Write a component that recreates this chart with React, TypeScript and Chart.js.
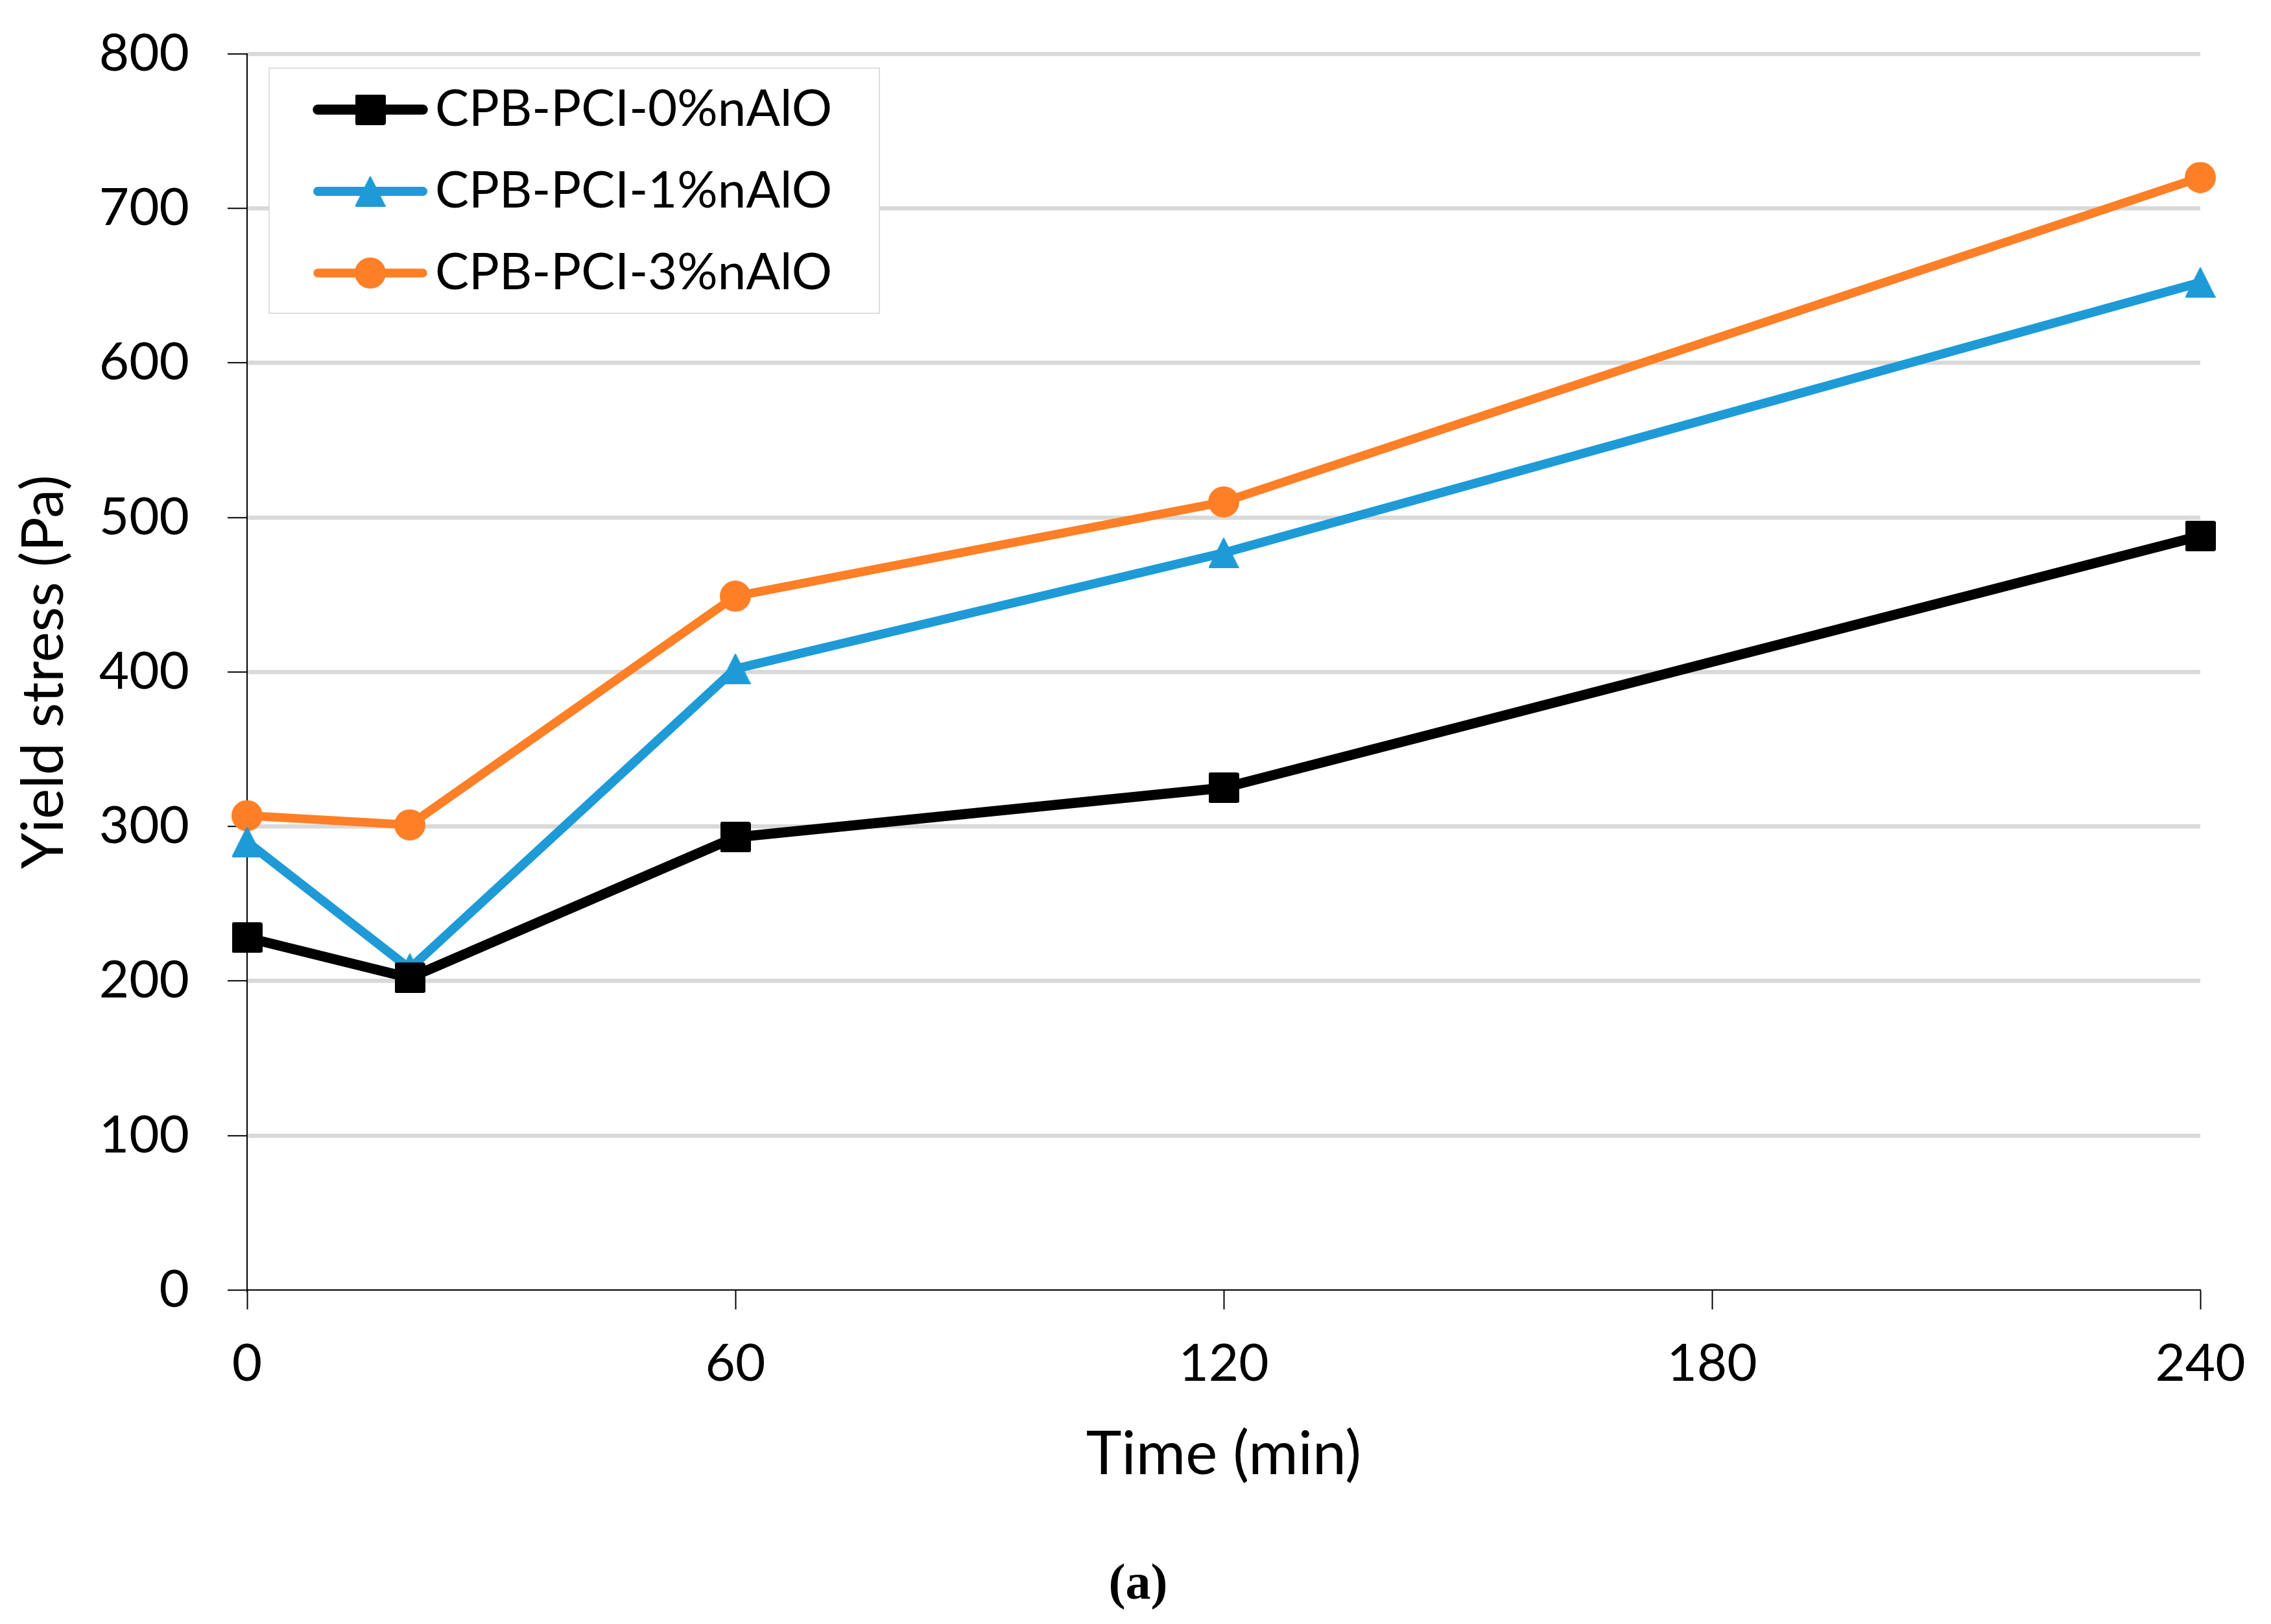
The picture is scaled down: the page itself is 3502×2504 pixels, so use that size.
import React, { useEffect, useRef } from 'react';
import { Chart, registerables } from 'chart.js';

Chart.register(...registerables);

// ---- data ----
const times = [0, 20, 60, 120, 240];
const yield0 = [228, 202, 293, 325, 488];
const yield1 = [290, 208, 402, 477, 652];
const yield3 = [307, 301, 449, 510, 720];
const seriesLabels = ['CPB-PCI-0%nAlO', 'CPB-PCI-1%nAlO', 'CPB-PCI-3%nAlO'];
const xTickValues = [0, 60, 120, 180, 240];
const yTickValues = [0, 100, 200, 300, 400, 500, 600, 700, 800];
const xTitle = 'Time (min)';
const yTitle = 'Yield stress (Pa)';
const caption = '(a)';

const W = 3502;
const H = 2504;
const FONT = 'Lato, "Open Sans", sans-serif';
const SERIF = '"Liberation Serif", "DejaVu Serif", serif';
const BLACK = '#000000';
const BLUE = '#1E9BD7';
const ORANGE = '#FF7F27';

function makeMarker(shape: 'square' | 'triangle' | 'circle', color: string): HTMLCanvasElement {
  const c = document.createElement('canvas');
  const s = shape === 'circle' ? 48 : 47;
  c.width = s;
  c.height = s;
  const g = c.getContext('2d')!;
  g.fillStyle = color;
  g.beginPath();
  if (shape === 'square') {
    const r = 3;
    g.moveTo(r, 0);
    g.lineTo(s - r, 0);
    g.quadraticCurveTo(s, 0, s, r);
    g.lineTo(s, s - r);
    g.quadraticCurveTo(s, s, s - r, s);
    g.lineTo(r, s);
    g.quadraticCurveTo(0, s, 0, s - r);
    g.lineTo(0, r);
    g.quadraticCurveTo(0, 0, r, 0);
  } else if (shape === 'circle') {
    g.arc(s / 2, s / 2, s / 2, 0, Math.PI * 2);
  } else {
    g.moveTo(s / 2, 1);
    g.lineTo(s - 1, s - 1);
    g.lineTo(1, s - 1);
    g.closePath();
    g.lineJoin = 'round';
    g.lineWidth = 2;
    g.strokeStyle = color;
    g.stroke();
  }
  g.fill();
  return c;
}

const boxLegend = {
  id: 'boxLegend',
  afterDraw(chart: any) {
    const ctx = chart.ctx as CanvasRenderingContext2D;
    ctx.save();
    ctx.fillStyle = '#ffffff';
    ctx.fillRect(415, 105, 941, 378);
    ctx.strokeStyle = '#dedede';
    ctx.lineWidth = 2;
    ctx.strokeRect(415, 105, 941, 378);
    chart.data.datasets.forEach((ds: any, i: number) => {
      const y = 169 + i * 126;
      ctx.strokeStyle = ds.borderColor;
      ctx.lineWidth = ds.borderWidth;
      ctx.lineCap = 'round';
      ctx.beginPath();
      ctx.moveTo(490, y);
      ctx.lineTo(652, y);
      ctx.stroke();
      const img = ds.pointStyle as HTMLCanvasElement;
      ctx.drawImage(img, 571 - img.width / 2, y - img.height / 2);
      ctx.fillStyle = '#000000';
      ctx.font = `78px ${FONT}`;
      ctx.textBaseline = 'middle';
      ctx.textAlign = 'left';
      ctx.fillText(ds.label, 671, y);
    });
    ctx.restore();
  },
};

const captionPlugin = {
  id: 'caption',
  afterDraw(chart: any) {
    const ctx = chart.ctx as CanvasRenderingContext2D;
    ctx.save();
    ctx.fillStyle = '#000';
    ctx.font = `bold 78px ${SERIF}`;
    ctx.textAlign = 'center';
    ctx.textBaseline = 'alphabetic';
    ctx.fillText(caption, 1755, 2465);
    ctx.restore();
  },
};

export default function App() {
  const ref = useRef<HTMLCanvasElement | null>(null);

  useEffect(() => {
    if (!ref.current) return;
    const mk = [makeMarker('square', BLACK), makeMarker('triangle', BLUE), makeMarker('circle', ORANGE)];
    const colors = [BLACK, BLUE, ORANGE];
    const widths = [15.5, 14, 13.5];
    const values = [yield0, yield1, yield3];
    const chart = new Chart(ref.current, {
      type: 'line',
      data: {
        datasets: values.map((vals, i) => ({
          label: seriesLabels[i],
          data: times.map((t, j) => ({ x: t, y: vals[j] })),
          borderColor: colors[i],
          backgroundColor: colors[i],
          borderWidth: widths[i],
          borderJoinStyle: 'round',
          borderCapStyle: 'round',
          pointStyle: mk[i],
          pointRadius: 24,
          pointHoverRadius: 24,
          tension: 0,
          fill: false,
          clip: false,
        })),
      },
      options: {
        animation: false,
        responsive: false,
        devicePixelRatio: 1,
        events: [],
        layout: { padding: { top: 83, right: 109, left: 0, bottom: 0 } },
        plugins: {
          legend: { display: false },
          tooltip: { enabled: false },
          title: { display: false },
        },
        scales: {
          x: {
            type: 'linear',
            min: 0,
            max: 240,
            afterBuildTicks: (s: any) => {
              s.ticks = xTickValues.map((v) => ({ value: v }));
            },
            afterFit: (s: any) => {
              s.height = 515;
              s.paddingLeft = 0;
              s.paddingRight = 0;
            },
            ticks: {
              color: '#000',
              font: { family: FONT, size: 80 },
              padding: 36,
              maxRotation: 0,
              autoSkip: false,
            },
            grid: {
              drawOnChartArea: false,
              drawTicks: true,
              tickLength: 30,
              tickColor: '#000',
              tickWidth: 2,
            },
            border: { display: true, color: '#000', width: 2 },
            title: {
              display: true,
              text: xTitle,
              color: '#000',
              font: { family: FONT, size: 93 },
              padding: { top: 0, bottom: 205 },
            },
          },
          y: {
            type: 'linear',
            min: 0,
            max: 800,
            afterBuildTicks: (s: any) => {
              s.ticks = yTickValues.map((v) => ({ value: v }));
            },
            afterFit: (s: any) => {
              s.width = 381;
              s.paddingTop = 0;
              s.paddingBottom = 0;
            },
            ticks: {
              color: '#000',
              font: { family: FONT, size: 80 },
              padding: 59,
              autoSkip: false,
            },
            grid: {
              color: (c: any) => (c.tick && c.tick.value === 0 ? 'rgba(0,0,0,0)' : '#d9d9d9'),
              lineWidth: 6.5,
              drawTicks: true,
              tickLength: 30,
              tickColor: '#000',
              tickWidth: 2,
            },
            border: { display: true, color: '#000', width: 2 },
            title: {
              display: true,
              text: yTitle,
              color: '#000',
              font: { family: FONT, size: 89 },
              padding: { top: 15, bottom: 0 },
            },
          },
        },
      },
      plugins: [boxLegend, captionPlugin],
    } as any);
    return () => chart.destroy();
  }, []);

  return (
    <div style={{ position: 'fixed', left: 0, top: 0, width: W, height: H, background: '#fff' }}>
      <canvas ref={ref} width={W} height={H} style={{ width: W, height: H, display: 'block' }} />
    </div>
  );
}
